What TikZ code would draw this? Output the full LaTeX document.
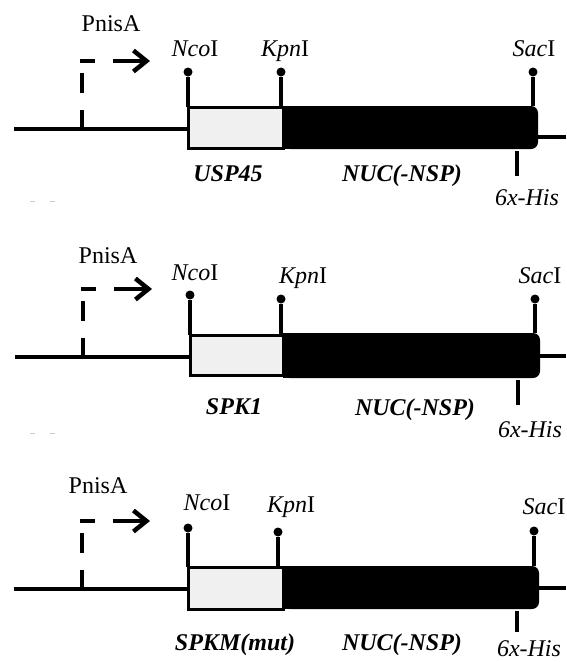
\documentclass[tikz,border=0pt]{standalone}
\usepackage{fontspec}
\setmainfont{Liberation Serif}
\usetikzlibrary{arrows.meta}
\begin{document}
\begin{tikzpicture}[x=1pt,y=-1pt,
  dna/.style={line width=3.4pt},
  stem/.style={line width=4.2pt},
  site/.style={circle,fill=black,inner sep=0pt,outer sep=0pt,minimum size=9pt},
  promv/.style={line width=4pt,dash pattern=on 19pt off 17pt on 20pt off 40pt},
  promh/.style={line width=4pt,dash pattern=on 15pt off 18pt on 60pt,
    -{Straight Barb[length=13pt,width=21pt,line width=4.5pt]}},
  lab/.style={anchor=base,inner sep=0pt,font=\fontsize{24}{26}\selectfont},
  gene/.style={anchor=base,inner sep=0pt,font=\fontsize{24}{26}\selectfont\bfseries\itshape},
  spbox/.style={rectangle,fill=gray!12,draw=black,line width=3pt,inner sep=0pt,outer sep=0pt},
  nucbox/.style={rectangle,fill=black,rounded corners=7pt,inner sep=0pt,outer sep=0pt},
  speck/.style={gray!40,line width=1pt},
]
\useasboundingbox (0,0) rectangle (566,662);

% ---------------- panel 1 ----------------
\node[nucbox,minimum width=255pt,minimum height=43pt] (nuc1) at (410.5,127.5) {};
\fill (nuc1.north west) rectangle ([xshift=20pt]nuc1.south west);
\node[spbox,minimum width=95pt,minimum height=41pt] (sp1) at (235.5,127.5) {};
\coordinate (L1) at (14,129);
\coordinate (R1) at (566,137);
\draw[dna] (L1) -- (L1 -| sp1.west);
\draw[dna] ([xshift=-4pt]R1 -| nuc1.east) -- (R1);
\coordinate (P1) at (82,129);
\coordinate (T1) at (150,61);
\coordinate (C1) at (P1 |- T1);
\draw[promv] (P1) -- (C1);
\draw[promh] ([xshift=-2pt]C1) -- (T1);
\node[site] (nco1) at (188,72) {};
\node[site] (kpn1) at (281,72) {};
\node[site] (sac1) at (533,72) {};
\draw[stem] (nco1 |- sp1.north) -- (nco1);
\draw[stem] (kpn1 |- sp1.north) -- (kpn1);
\draw[stem] (sac1 |- nuc1.north) -- (sac1);
\coordinate (his1) at (517,176);
\draw[stem] ([yshift=-2pt]his1 |- nuc1.south) -- (his1);
\node[lab] (pn1) at (111,31) {PnisA};
\node[lab] (ncol1) at (195,56) {\textit{Nco}I};
\node[lab] (kpnl1) at (285,56) {\textit{Kpn}I};
\node[lab] (sacl1) at (534,56) {\textit{Sac}I};
\node[gene] (g1) at (228,181) {USP45};
\node[gene] (n1) at (402,181) {NUC(-NSP)};
\node[lab] (h1) at (527,205) {\textit{6x-His}};
\draw[speck] (30,201) -- (35,201) (50,201) -- (55,201);

% ---------------- panel 2 ----------------
\node[nucbox,minimum width=257pt,minimum height=45pt] (nuc2) at (411.5,355.5) {};
\fill (nuc2.north west) rectangle ([xshift=20pt]nuc2.south west);
\node[spbox,minimum width=93pt,minimum height=40pt] (sp2) at (236.5,355) {};
\coordinate (L2) at (15,357);
\coordinate (R2) at (566,356);
\draw[dna] (L2) -- (L2 -| sp2.west);
\draw[dna] ([xshift=-4pt]R2 -| nuc2.east) -- (R2);
\coordinate (P2) at (83,357);
\coordinate (T2) at (152,289);
\coordinate (C2) at (P2 |- T2);
\draw[promv] (P2) -- (C2);
\draw[promh] ([xshift=-2pt]C2) -- (T2);
\node[site] (nco2) at (190,295) {};
\node[site] (kpn2) at (281,299) {};
\node[site] (sac2) at (535,299) {};
\draw[stem] (nco2 |- sp2.north) -- (nco2);
\draw[stem] (kpn2 |- sp2.north) -- (kpn2);
\draw[stem] (sac2 |- nuc2.north) -- (sac2);
\coordinate (his2) at (518,405);
\draw[stem] ([yshift=-2pt]his2 |- nuc2.south) -- (his2);
\node[lab] (pn2) at (108,263) {PnisA};
\node[lab] (ncol2) at (195,280) {\textit{Nco}I};
\node[lab] (kpnl2) at (303,283) {\textit{Kpn}I};
\node[lab] (sacl2) at (540,283) {\textit{Sac}I};
\node[gene] (g2) at (234,414) {SPK1};
\node[gene] (n2) at (415,415) {NUC(-NSP)};
\node[lab] (h2) at (530,437) {\textit{6x-His}};
\draw[speck] (30,433) -- (35,433) (50,433) -- (55,433);

% ---------------- panel 3 ----------------
\node[nucbox,minimum width=256pt,minimum height=43pt] (nuc3) at (411,587.5) {};
\fill (nuc3.north west) rectangle ([xshift=20pt]nuc3.south west);
\node[spbox,minimum width=95pt,minimum height=42pt] (sp3) at (235.5,588) {};
\coordinate (L3) at (14,589);
\coordinate (R3) at (566,588);
\draw[dna] (L3) -- (L3 -| sp3.west);
\draw[dna] ([xshift=-4pt]R3 -| nuc3.east) -- (R3);
\coordinate (P3) at (82,589);
\coordinate (T3) at (150,521);
\coordinate (C3) at (P3 |- T3);
\draw[promv] (P3) -- (C3);
\draw[promh] ([xshift=-2pt]C3) -- (T3);
\node[site] (nco3) at (188,528) {};
\node[site] (kpn3) at (278,532) {};
\node[site] (sac3) at (534,531) {};
\draw[stem] (nco3 |- sp3.north) -- (nco3);
\draw[stem] (kpn3 |- sp3.north) -- (kpn3);
\draw[stem] (sac3 |- nuc3.north) -- (sac3);
\coordinate (his3) at (517,632);
\draw[stem] ([yshift=-2pt]his3 |- nuc3.south) -- (his3);
\node[lab] (pn3) at (98,493) {PnisA};
\node[lab] (ncol3) at (207,510) {\textit{Nco}I};
\node[lab] (kpnl3) at (291,512) {\textit{Kpn}I};
\node[lab] (sacl3) at (544,514) {\textit{Sac}I};
\node[gene] (g3) at (235,650) {SPKM(\textit{mut})};
\node[gene] (n3) at (402,650) {NUC(-NSP)};
\node[lab] (h3) at (529,656) {\textit{6x-His}};
\end{tikzpicture}
\end{document}
